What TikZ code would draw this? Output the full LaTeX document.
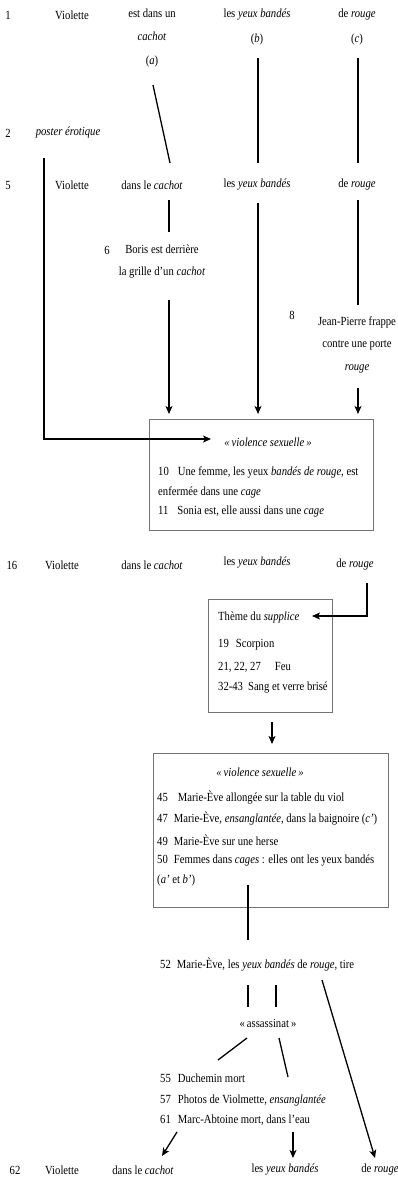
\documentclass[tikz,border=0pt]{standalone}
\usepackage{fontspec}
\setmainfont[FakeStretch=0.86]{Liberation Serif}
\usetikzlibrary{arrows.meta}
\begin{document}
\begin{tikzpicture}[x=1pt,y=-1pt,
  lbl/.style={inner sep=0pt, font=\fontsize{12.4}{22}\selectfont},
  ml/.style={lbl, align=center},
  lft/.style={lbl, anchor=west},
  conn/.style={line width=1.3pt},
  arr/.style={conn, -{Stealth[length=8pt,width=7pt,inset=2pt]}},
  frame/.style={draw=black!55, line width=0.9pt, inner sep=0pt}]
\useasboundingbox (0,0) rectangle (397,1179);

% ---- row 1
\node[lbl] (n1) at (8,15) {1};
\node[lbl] (v1) at (72,15) {Violette};
\node[ml, font=\fontsize{12.4}{23.5}\selectfont] (a1) at (152,38) {est dans un\\\textit{cachot}\\(\textit{a})};
\node[ml, font=\fontsize{12.4}{25}\selectfont] (b1) at (257,27.5) {les \textit{yeux bandés}\\(\textit{b})};
\node[ml, font=\fontsize{12.4}{25}\selectfont] (c1) at (357,27.5) {de \textit{rouge}\\(\textit{c})};

% ---- row 2
\node[lbl] (n2) at (8,133) {2};
\node[lbl] (poster) at (68,133) {\textit{poster érotique}};

% ---- row 5
\node[lbl] (n5) at (8,185) {5};
\node[lbl] (v5) at (72,185) {Violette};
\node[lbl] (cachot5) at (152,185) {dans le \textit{cachot}};
\node[lbl] (yeux5) at (257,185) {les \textit{yeux bandés}};
\node[lbl] (rouge5) at (357,185) {de \textit{rouge}};

\node[lbl] (n6) at (107,250) {6};
\node[ml] (boris) at (162,261.5) {Boris est derrière\\la grille d’un \textit{cachot}};
\node[lbl] (n8) at (292,315) {8};
\node[ml, font=\fontsize{12.4}{22.5}\selectfont] (jp) at (357,344.5) {Jean-Pierre frappe\\contre une porte\\\textit{rouge}};

% ---- box 1
\node[frame, minimum width=224pt, minimum height=111pt] (box1) at (261,474.5) {};
\node[lbl] (vs1) at (268,442) {\textit{«\,violence sexuelle\,»}};
\node[lft] (l10) at (158,472) {10\hspace{9pt}Une femme, les yeux \textit{bandés de rouge}, est};
\node[lft] (l10b) at (158,492) {enfermée dans une \textit{cage}};
\node[lft] (l11) at (158,512) {11\hspace{9pt}Sonia est, elle aussi dans une \textit{cage}};

% ---- row 16
\node[lbl] (n16) at (12,565) {16};
\node[lbl] (v16) at (62,565) {Violette};
\node[lbl] (cachot16) at (152,565) {dans le \textit{cachot}};
\node[lbl] (yeux16) at (257,563) {les \textit{yeux bandés}};
\node[lbl] (rouge16) at (355,565) {de \textit{rouge}};

% ---- box 2
\node[frame, minimum width=124pt, minimum height=113pt] (box2) at (270,655.5) {};
\node[lft] (theme) at (218,617) {Thème du \textit{supplice}};
\node[lft] (l19) at (218,645) {19\hspace{7pt}Scorpion};
\node[lft] (l21) at (218,667) {21, 22, 27\hspace{14pt}Feu};
\node[lft] (l32) at (218,688) {32-43\hspace{5pt}Sang et verre brisé};

% ---- box 3
\node[frame, minimum width=235pt, minimum height=154pt] (box3) at (270.5,830) {};
\node[lbl] (vs3) at (260,772) {\textit{«\,violence sexuelle\,»}};
\node[lft] (l45) at (157,798) {45\hspace{10pt}Marie-Ève allongée sur la table du viol};
\node[lft] (l47) at (157,819) {47\hspace{6pt}Marie-Ève, \textit{ensanglantée}, dans la baignoire (\textit{c’})};
\node[lft] (l49) at (157,840) {49\hspace{6pt}Marie-Ève sur une herse};
\node[lft] (l50) at (157,861) {50\hspace{6pt}Femmes dans \textit{cages} : elles ont les yeux bandés};
\node[lft] (l50b) at (157,881) {(\textit{a’} et \textit{b’})};

% ---- 52
\node[lft] (l52) at (160,965) {52\hspace{6pt}Marie-Ève, les \textit{yeux bandés} de \textit{rouge}, tire};
\node[lbl] (ass) at (268,1023) {«\,assassinat\,»};
\node[lft] (l55) at (160,1078) {55\hspace{7pt}Duchemin mort};
\node[lft] (l57) at (160,1100) {57\hspace{7pt}Photos de Violmette, \textit{ensanglantée}};
\node[lft] (l61) at (160,1120) {61\hspace{7pt}Marc-Abtoine mort, dans l’eau};

% ---- row 62
\node[lbl] (n62) at (15,1170) {62};
\node[lbl] (v62) at (62,1170) {Violette};
\node[lbl] (cachot62) at (143,1170) {dans le \textit{cachot}};
\node[lbl] (yeux62) at (285,1170) {les \textit{yeux bandés}};
\node[lbl] (rouge62) at (380,1170) {de \textit{rouge}};

% ---- connector end points
\coordinate (a1s) at (153,85);   \coordinate (c5n) at (170,163);
\coordinate (b1s) at (258,58);   \coordinate (y5n) at (258,163);
\coordinate (c1s) at (358,58);   \coordinate (r5n) at (358,163);
\coordinate (ps) at (44,158);    \coordinate (pc) at (44,439);  \coordinate (pt) at (211,439);
\coordinate (c5s) at (169,200);  \coordinate (bn) at (169,232);
\coordinate (bs) at (169,300);   \coordinate (bt) at (169,414);
\coordinate (y5s) at (258,203);  \coordinate (yt) at (258,414);
\coordinate (r5s) at (358,200);  \coordinate (jn) at (358,305);
\coordinate (js) at (358,388);   \coordinate (jt) at (358,414);
\coordinate (r16s) at (367,583); \coordinate (r16c) at (367,616); \coordinate (tt) at (312,616);
\coordinate (b2s) at (272,722);  \coordinate (b3n) at (272,744);
\coordinate (cg) at (248,885);   \coordinate (m52) at (248,940);
\coordinate (y52) at (248,985);  \coordinate (ay) at (248,1007);
\coordinate (bd52) at (276,985); \coordinate (ab) at (276,1007);
\coordinate (ro52) at (322,980); \coordinate (r62) at (375,1158);
\coordinate (as1) at (247,1038); \coordinate (dm) at (218,1060);
\coordinate (as2) at (279,1038); \coordinate (ph) at (288,1077);
\coordinate (m61a) at (177,1132); \coordinate (c62) at (162,1156);
\coordinate (m61b) at (293,1132); \coordinate (y62) at (293,1158);

% ---- connectors
\draw[conn] (a1s) -- (c5n);
\draw[conn] (b1s) -- (y5n);
\draw[conn] (c1s) -- (r5n);
\draw[arr] (ps) -- (pc) -- (pt);
\draw[conn] (c5s) -- (bn);
\draw[arr] (bs) -- (bt);
\draw[arr] (y5s) -- (yt);
\draw[conn] (r5s) -- (jn);
\draw[arr] (js) -- (jt);
\draw[arr] (r16s) -- (r16c) -- (tt);
\draw[arr] (b2s) -- (b3n);
\draw[conn] (cg) -- (m52);
\draw[conn] (y52) -- (ay);
\draw[conn] (bd52) -- (ab);
\draw[arr] (ro52) -- (r62);
\draw[conn] (as1) -- (dm);
\draw[conn] (as2) -- (ph);
\draw[arr] (m61a) -- (c62);
\draw[arr] (m61b) -- (y62);
\end{tikzpicture}
\end{document}
